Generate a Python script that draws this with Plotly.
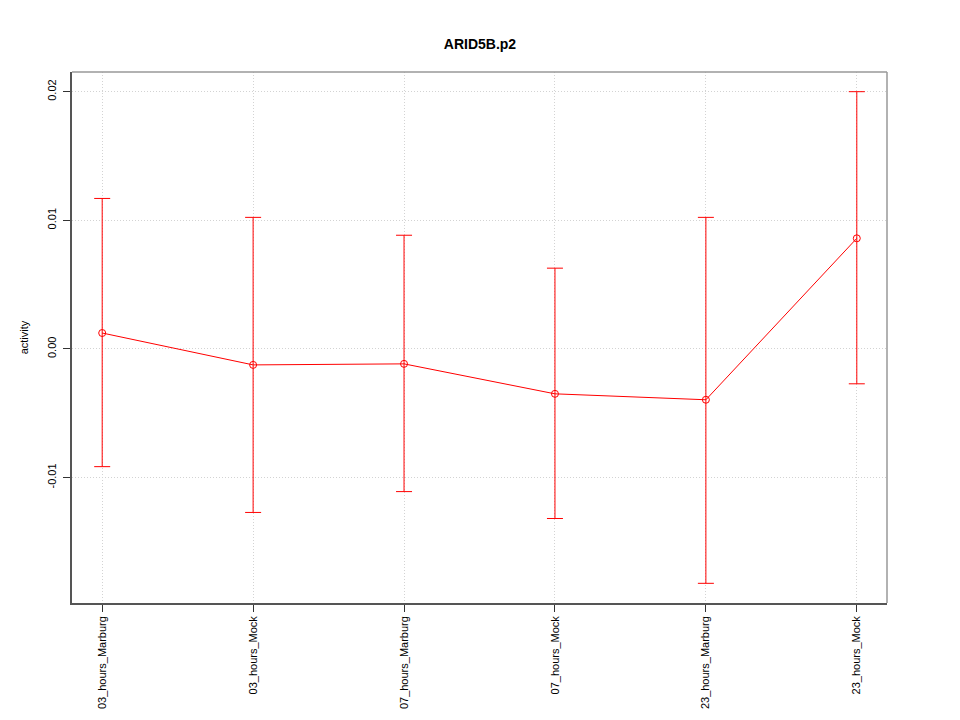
"""ARID5B.p2 activity chart"""
import plotly.graph_objects as go

# 条件ラベル
conditions = [
    "03_hours_Marburg",
    "03_hours_Mock",
    "07_hours_Marburg",
    "07_hours_Mock",
    "23_hours_Marburg",
    "23_hours_Mock",
]
# 平均値と誤差範囲の上下端
activity = [0.00124, -0.00124, -0.00116, -0.00349, -0.00395, 0.0086]
upper = [0.0117, 0.01023, 0.00884, 0.00628, 0.01023, 0.0200]
lower = [-0.00915, -0.01271, -0.01109, -0.01318, -0.01822, -0.00271]

y_ticks = [-0.01, 0.0, 0.01, 0.02]
y_tick_labels = ["-0.01", "0.00", "0.01", "0.02"]

x_idx = list(range(len(conditions)))
err_plus = [u - a for u, a in zip(upper, activity)]
err_minus = [a - l for a, l in zip(activity, lower)]

fig = go.Figure()

fig.add_trace(
    go.Scatter(
        x=x_idx,
        y=activity,
        mode="lines+markers",
        line={"color": "red", "width": 1},
        marker={"symbol": "circle-open", "size": 7, "color": "red", "line": {"width": 1}},
        error_y={
            "type": "data",
            "symmetric": False,
            "array": err_plus,
            "arrayminus": err_minus,
            "color": "red",
            "thickness": 1,
            "width": 8,
        },
        showlegend=False,
    )
)

# 枠線（上・右は薄め）
fig.add_shape(type="line", xref="paper", yref="paper", x0=0, x1=1, y0=1, y1=1,
              line={"color": "#999999", "width": 1.5})
fig.add_shape(type="line", xref="paper", yref="paper", x0=1, x1=1, y0=0, y1=1,
              line={"color": "#999999", "width": 1.5})

grid_style = {
    "showgrid": True,
    "gridcolor": "#d3d3d3",
    "griddash": "1px,2px",
    "gridwidth": 1,
    "zeroline": False,
}

# ページの余白8pxを考慮したマージン
fig.update_layout(
    width=960,
    height=720,
    margin={"l": 64, "r": 81, "t": 64, "b": 125},
    paper_bgcolor="white",
    plot_bgcolor="white",
    font={"family": "Liberation Sans, Arial, sans-serif", "size": 12, "color": "black"},
    title={
        "text": "<b>ARID5B.p2</b>",
        "x": (480 - 8) / 960,
        "xanchor": "center",
        "y": 1 - 36 / 720,
        "yanchor": "middle",
        "font": {"size": 14},
    },
    xaxis={
        "range": [-0.2, 5.2],
        "tickmode": "array",
        "tickvals": x_idx,
        "ticktext": conditions,
        "tickangle": -90,
        "ticks": "outside",
        "ticklen": 7,
        "tickcolor": "#333333",
        "showline": True,
        "linecolor": "#555555",
        "linewidth": 1.5,
        "tickfont": {"size": 11},
        **grid_style,
    },
    yaxis={
        "range": [-0.01975, 0.02153],
        "tickmode": "array",
        "tickvals": y_ticks,
        "ticktext": y_tick_labels,
        "tickangle": -90,
        "ticks": "outside",
        "ticklen": 7,
        "ticklabelstandoff": 3,
        "tickcolor": "#333333",
        "showline": True,
        "linecolor": "#555555",
        "linewidth": 1.5,
        "title": {"text": "activity", "standoff": 15, "font": {"size": 11}},
        "tickfont": {"size": 11},
        **grid_style,
    },
)

fig.write_html("out.html")
